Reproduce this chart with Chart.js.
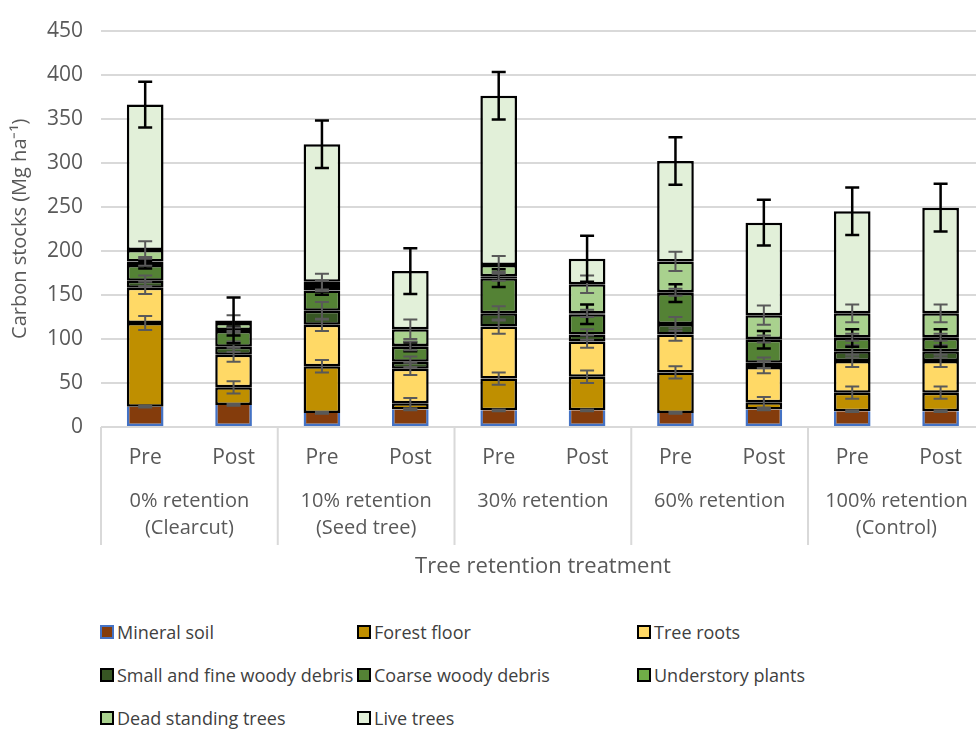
<!DOCTYPE html>
<html>
<head>
<meta charset="utf-8">
<script src="https://cdn.jsdelivr.net/npm/chart.js@4.4.1/dist/chart.umd.min.js"></script>
<style>
    html, body { margin: 0; padding: 0; background: #fff; overflow: hidden; }
    #wrap { position: relative; width: 976px; height: 731px; overflow: hidden; }
    #box { position: absolute; left: 0; top: 0; width: 988px; height: 600px; }
    #legend {
        position: absolute; left: 100px; top: 610px;
        display: grid; grid-template-columns: 257px 280px 300px; grid-auto-rows: 43px;
        font-family: "Open Sans", sans-serif; font-size: 18px; color: #404040;
    }
    .item { display: flex; align-items: center; white-space: nowrap; }
    .swatch { width: 10px; height: 10px; border: 2px solid #000; margin-right: 3px; }
</style>
</head>
<body>
<div id="wrap">
    <div id="box"><canvas id="carbonChart"></canvas></div>
    <div id="legend"></div>
</div>
<script>
// bars: 0%, 10%, 30%, 60%, 100% retention, each Pre and Post
const categories = ['Pre', 'Post', 'Pre', 'Post', 'Pre', 'Post', 'Pre', 'Post', 'Pre', 'Post'];
const groupLabels = [
    ['0% retention', '(Clearcut)'],
    ['10% retention', '(Seed tree)'],
    ['30% retention'],
    ['60% retention'],
    ['100% retention', '(Control)']
];
const yTicks = [0, 50, 100, 150, 200, 250, 300, 350, 400, 450];

// carbon stocks (Mg/ha), bottom to top of each stack
const mineralSoil  = [23, 25, 16, 20, 19, 19, 16, 20, 18, 18];
const forestFloor  = [95, 20, 53, 7, 36, 38, 46, 8, 21, 21];
const treeRoots    = [40, 37, 47, 39, 59, 40, 43, 40, 36, 36];
const smallDebris  = [8, 9, 16, 8, 15, 8, 12, 5, 11, 11];
const coarseDebris = [18, 18, 23, 17, 40, 23, 35, 26, 15, 15];
const understory   = [4, 1, 5, 1, 2, 1, 1, 1, 1, 1];
const deadTrees    = [13, 8, 5, 19, 13, 33, 35, 27, 27, 27];
const liveTrees    = [165, 3, 156, 66, 192, 29, 114, 105, 116, 120];

// error bars (+/-) at the top of each segment
const mineralErr = [1, 1, 1, 1, 1, 1, 1, 1, 1, 1];
const floorErr   = [8, 7, 7, 6, 7, 7, 7, 6, 7, 7];
const rootsErr   = [7, 8, 7, 7, 8, 7, 7, 7, 7, 7];
const smallErr   = [6, 6, 10, 6, 8, 6, 8, 6, 7, 7];
const coarseErr  = [4, 5, 5, 5, 10, 11, 10, 10, 10, 10];
const underErr   = [5, 3, 6, 5, 5, 4, 4, 4, 4, 4];
const deadErr    = [10, 9, 9, 11, 10, 10, 11, 11, 10, 10];
const liveErr    = [26, 26, 27, 26, 27, 26, 27, 26, 27, 27];

const FONT = '"Open Sans", sans-serif';
const TEXT = '#595959';
const GRID = '#d9d9d9';

function series(label, data, err, color, errColor) {
    return {
        label: label,
        data: data,
        errors: err,
        errColor: errColor,
        backgroundColor: color,
        borderColor: '#000',
        borderWidth: 2.5,
        borderSkipped: false,
        categoryPercentage: 1,
        barPercentage: 0.415
    };
}

const datasets = [
    series('Mineral soil', mineralSoil, mineralErr, '#843C0C', '#595959'),
    series('Forest floor', forestFloor, floorErr, '#BF8F00', '#595959'),
    series('Tree roots', treeRoots, rootsErr, '#FFD966', '#595959'),
    series('Small and fine woody debris', smallDebris, smallErr, '#375623', '#595959'),
    series('Coarse woody debris', coarseDebris, coarseErr, '#548235', '#000'),
    series('Understory plants', understory, underErr, '#70AD47', '#595959'),
    series('Dead standing trees', deadTrees, deadErr, '#A9D18E', '#595959'),
    series('Live trees', liveTrees, liveErr, '#E2F0D9', '#000')
];
datasets[0].borderColor = '#4472C4';
datasets[0].borderSkipped = 'top';

// error bars drawn from the stacked totals through the y scale
const errorBars = {
    id: 'errorBars',
    afterDatasetsDraw(chart) {
        const ctx = chart.ctx;
        const y = chart.scales.y;
        const totals = new Array(categories.length).fill(0);
        chart.data.datasets.forEach(function (ds, d) {
            const meta = chart.getDatasetMeta(d);
            ds.data.forEach(function (v, j) {
                totals[j] += v;
                const x = meta.data[j].x;
                const yHi = y.getPixelForValue(totals[j] + ds.errors[j]);
                const yLo = y.getPixelForValue(totals[j] - ds.errors[j]);
                ctx.save();
                ctx.strokeStyle = ds.errColor;
                ctx.lineWidth = ds.errColor === '#000' ? 2.5 : 2;
                ctx.beginPath();
                ctx.moveTo(x, yHi); ctx.lineTo(x, yLo);
                ctx.moveTo(x - 7, yHi); ctx.lineTo(x + 7, yHi);
                ctx.moveTo(x - 7, yLo); ctx.lineTo(x + 7, yLo);
                ctx.stroke();
                ctx.restore();
            });
        });
    }
};

// vertical separators between treatment groups under the axis
const groupLines = {
    id: 'groupLines',
    afterDraw(chart) {
        const ctx = chart.ctx;
        const x = chart.scales.x;
        const top = chart.chartArea.bottom;
        const bottom = top + 118;
        ctx.save();
        ctx.strokeStyle = GRID;
        ctx.lineWidth = 2;
        ctx.beginPath();
        for (let i = 0; i < categories.length; i += 2) {
            const px = i === 0 ? chart.chartArea.left
                : (x.getPixelForValue(i - 1) + x.getPixelForValue(i)) / 2;
            ctx.moveTo(px, top); ctx.lineTo(px, bottom);
        }
        ctx.stroke();
        ctx.restore();
    }
};

const chart = new Chart(document.getElementById('carbonChart').getContext('2d'), {
    type: 'bar',
    data: { labels: categories, datasets: datasets },
    options: {
        responsive: true,
        maintainAspectRatio: false,
        animation: false,
        layout: { padding: { top: 19, right: 3, bottom: 18, left: 0 } },
        plugins: { legend: { display: false }, tooltip: { enabled: false } },
        scales: {
            x: {
                stacked: true,
                weight: 0,
                afterFit(scale) { scale.height = 41; },
                grid: { display: false, drawTicks: false },
                border: { display: false },
                ticks: { color: TEXT, font: { family: FONT, size: 21 }, padding: 18 }
            },
            x2: {
                type: 'category',
                position: 'bottom',
                weight: 1,
                labels: groupLabels,
                afterFit(scale) { scale.height = 114; },
                grid: { display: false, drawTicks: false },
                border: { display: false },
                ticks: { color: TEXT, font: { family: FONT, size: 20, lineHeight: 1.35 }, padding: 20 },
                title: {
                    display: true, text: 'Tree retention treatment', color: TEXT,
                    font: { family: FONT, size: 22 }, padding: { top: 12, bottom: 2 }
                }
            },
            y: {
                stacked: true,
                min: 0,
                max: 450,
                afterFit(scale) { scale.width = 101; },
                afterBuildTicks(scale) { scale.ticks = yTicks.map(v => ({ value: v })); },
                grid: { color: GRID, lineWidth: 2, drawTicks: false },
                border: { display: false },
                ticks: { color: TEXT, font: { family: FONT, size: 21 }, padding: 18 },
                title: {
                    display: true, text: 'Carbon stocks (Mg ha\u207B\u00B9)', color: TEXT,
                    font: { family: FONT, size: 20 }, padding: { top: 8, bottom: 0 }
                }
            }
        }
    },
    plugins: [errorBars, groupLines]
});

// legend in three columns, built from the datasets
const legend = document.getElementById('legend');
chart.data.datasets.forEach(function (ds) {
    const item = document.createElement('div');
    item.className = 'item';
    item.innerHTML = '<span class="swatch" style="background:' + ds.backgroundColor +
        ';border-color:' + ds.borderColor + '"></span>' + ds.label;
    legend.appendChild(item);
});
</script>
</body>
</html>
